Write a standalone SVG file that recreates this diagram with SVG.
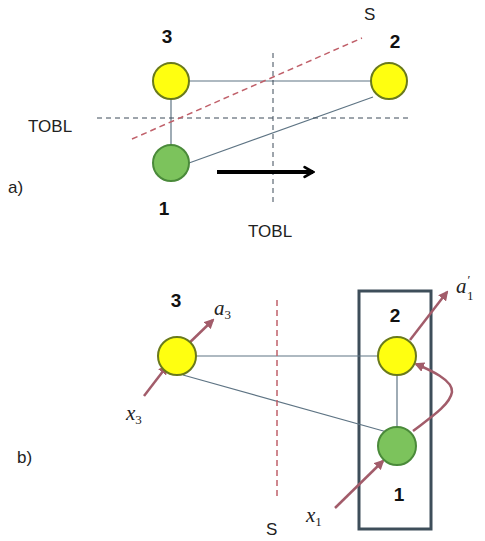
<svg xmlns="http://www.w3.org/2000/svg" width="485" height="541" viewBox="0 0 485 541">
<defs>
<style>
.yel{fill:#ffff10;stroke:#6a7a1c;stroke-width:2}
.grn{fill:#7cc35c;stroke:#4a8a3a;stroke-width:2}
.edge{stroke:#5e7484;stroke-width:1.2;fill:none}
.dash{stroke:#3c4a58;stroke-width:1;stroke-dasharray:5,4;fill:none}
.rdash{stroke:#c0606a;stroke-width:1.5;stroke-dasharray:6,4;fill:none}
.red{stroke:#a25c6a;stroke-width:2.5;fill:none}
.num{font-family:"Liberation Sans",Arial,sans-serif;font-weight:bold;font-size:19px;fill:#111}
.lbl{font-family:"Liberation Sans",Arial,sans-serif;font-size:17px;fill:#222}
.math{font-family:"Liberation Serif","Times New Roman",serif;font-style:italic;font-size:21px;fill:#222}
.sub{font-family:"Liberation Serif","Times New Roman",serif;font-size:13px;fill:#222}
</style>
<marker id="rh" viewBox="0 0 10 10" refX="8" refY="5" markerWidth="4" markerHeight="4" orient="auto" markerUnits="strokeWidth">
<path d="M0,0 L10,5 L0,10 z" fill="#a25c6a"/>
</marker>
<marker id="bh" viewBox="0 0 10 10" refX="8" refY="5" markerWidth="3" markerHeight="3.5" orient="auto" markerUnits="strokeWidth">
<path d="M1,1 L8,5 L1,9" fill="none" stroke="#000" stroke-width="2.2" stroke-linecap="round"/>
</marker>
</defs>

<!-- Part a -->
<g id="connectors-a">
<line class="edge" x1="189" y1="81" x2="371" y2="81"/>
<line class="edge" x1="171" y1="99" x2="171" y2="145"/>
<line class="edge" x1="189" y1="163" x2="373" y2="97"/>
<line class="dash" x1="97" y1="118" x2="410" y2="118"/>
<line class="dash" x1="273" y1="53" x2="273" y2="202"/>
<line class="rdash" x1="132" y1="139" x2="362" y2="38"/>
<line x1="217" y1="172" x2="313" y2="172" stroke="#000" stroke-width="4" marker-end="url(#bh)"/>
</g>
<g id="a-node3"><circle class="yel" cx="171" cy="81" r="18"/><text class="num" x="167" y="43" text-anchor="middle">3</text></g>
<g id="a-node2"><circle class="yel" cx="389" cy="81" r="18"/><text class="num" x="395" y="48" text-anchor="middle">2</text></g>
<g id="a-node1"><circle class="grn" cx="171" cy="163" r="18"/><text class="num" x="164" y="215" text-anchor="middle">1</text></g>
<text class="lbl" x="28" y="132">TOBL</text>
<text class="lbl" x="248" y="237">TOBL</text>
<text class="lbl" x="364" y="20">S</text>
<text class="lbl" x="8" y="193">a)</text>

<!-- Part b -->
<g id="box"><rect x="359" y="291" width="72" height="238" fill="none" stroke="#3e4e5a" stroke-width="3"/></g>
<g id="connectors-b">
<line class="edge" x1="196" y1="356" x2="378" y2="356"/>
<line class="edge" x1="183" y1="375" x2="387" y2="432"/>
<line class="edge" x1="397" y1="375" x2="397" y2="427"/>
<line class="rdash" x1="277" y1="300" x2="277" y2="498"/>
<line class="red" x1="144" y1="396" x2="167" y2="366" marker-end="url(#rh)"/>
<line class="red" x1="183" y1="349" x2="213" y2="320" marker-end="url(#rh)"/>
<line class="red" x1="335" y1="508" x2="383" y2="461" marker-end="url(#rh)"/>
<line class="red" x1="410" y1="340" x2="447" y2="292" marker-end="url(#rh)"/>
<path class="red" d="M413,431 C430,418 450,405 452,392 C453,380 430,370 416,364" marker-end="url(#rh)"/>
</g>
<g id="b-node3"><circle class="yel" cx="177" cy="356" r="19"/><text class="num" x="176" y="307" text-anchor="middle">3</text></g>
<g id="b-node2"><circle class="yel" cx="397" cy="356" r="19"/><text class="num" x="395" y="322" text-anchor="middle">2</text></g>
<g id="b-node1"><circle class="grn" cx="397" cy="446" r="19"/><text class="num" x="399" y="501" text-anchor="middle">1</text></g>
<text class="lbl" x="17" y="463">b)</text>
<text class="lbl" x="266" y="535">S</text>
<text x="214" y="315"><tspan class="math">a</tspan><tspan class="sub" dy="4">3</tspan></text>
<text x="126" y="420"><tspan class="math">x</tspan><tspan class="sub" dy="4">3</tspan></text>
<text x="306" y="522"><tspan class="math">x</tspan><tspan class="sub" dy="4">1</tspan></text>
<text x="456" y="293"><tspan class="math">a</tspan><tspan class="sub" dx="1" dy="-9" font-size="12">′</tspan></text>
<text class="sub" x="467" y="300" font-size="11">1</text>
</svg>
